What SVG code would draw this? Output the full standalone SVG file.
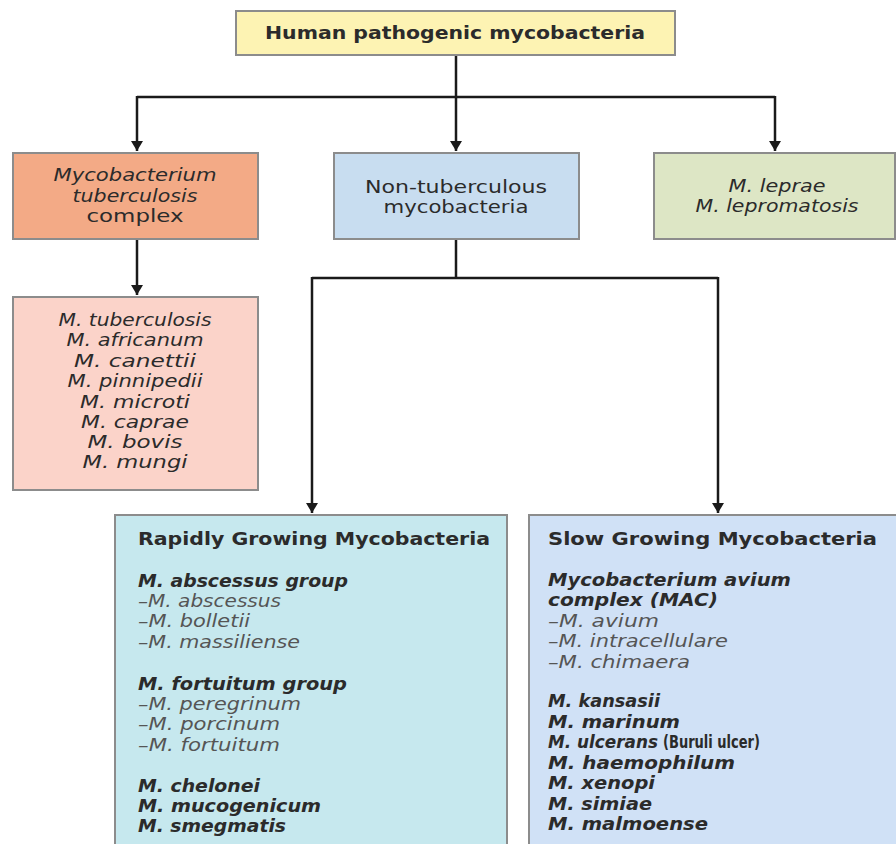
<svg xmlns="http://www.w3.org/2000/svg" width="896" height="844" viewBox="0 0 896 844">
<defs>
<marker id="ah" viewBox="0 0 10 12" refX="10" refY="6" markerWidth="10" markerHeight="12" markerUnits="userSpaceOnUse" orient="auto">
<path d="M0,0 L10,6 L0,12 Z" fill="#1a1a1a"/>
</marker>
<style>
.box{stroke:#8c8c8c;stroke-width:2}
.t{font-family:"DejaVu Sans",sans-serif;fill:#2b2b2b;font-size:17px}
.c{text-anchor:middle}
.b{font-weight:bold}
.i{font-style:oblique}
.s{fill:#555;font-weight:normal}
.ln{stroke:#1a1a1a;stroke-width:2.5;fill:none}
</style>
</defs>
<rect width="896" height="844" fill="#fff"/>
<g id="connectors">
<path class="ln" d="M456,55 V151" marker-end="url(#ah)"/>
<path class="ln" d="M137,97 H775"/>
<path class="ln" d="M137,96 V151" marker-end="url(#ah)"/>
<path class="ln" d="M775,96 V151" marker-end="url(#ah)"/>
<path class="ln" d="M137,240 V295" marker-end="url(#ah)"/>
<path class="ln" d="M456,240 V278"/>
<path class="ln" d="M312,278 H718"/>
<path class="ln" d="M312,277 V513" marker-end="url(#ah)"/>
<path class="ln" d="M718,277 V513" marker-end="url(#ah)"/>
</g>
<g id="root">
<rect class="box" x="236" y="11" width="439" height="44" fill="#fdf3b3"/>
<text class="t c b" x="455" y="39" textLength="380" lengthAdjust="spacingAndGlyphs">Human pathogenic mycobacteria</text>
</g>
<g id="mtbc">
<rect class="box" x="13" y="153" width="245" height="86" fill="#f3aa86"/>
<text class="t c i" x="135" y="181" textLength="163" lengthAdjust="spacingAndGlyphs">Mycobacterium</text>
<text class="t c i" x="135" y="202" textLength="125" lengthAdjust="spacingAndGlyphs">tuberculosis</text>
<text class="t c" x="135" y="222" textLength="97" lengthAdjust="spacingAndGlyphs">complex</text>
</g>
<g id="ntm">
<rect class="box" x="334" y="153" width="245" height="86" fill="#c8ddf0"/>
<text class="t c" x="456" y="193" textLength="182" lengthAdjust="spacingAndGlyphs">Non-tuberculous</text>
<text class="t c" x="456" y="213" textLength="145" lengthAdjust="spacingAndGlyphs">mycobacteria</text>
</g>
<g id="leprae">
<rect class="box" x="654" y="153" width="241" height="86" fill="#dde6c5"/>
<text class="t c i" x="777" y="192" textLength="97" lengthAdjust="spacingAndGlyphs">M. leprae</text>
<text class="t c i" x="777" y="212" textLength="163" lengthAdjust="spacingAndGlyphs">M. lepromatosis</text>
</g>
<g id="mtbc-species">
<rect class="box" x="13" y="297" width="245" height="193" fill="#fbd3c9"/>
<text class="t c i" x="135" y="326" textLength="153" lengthAdjust="spacingAndGlyphs">M. tuberculosis</text>
<text class="t c i" x="135" y="346" textLength="137" lengthAdjust="spacingAndGlyphs">M. africanum</text>
<text class="t c i" x="135" y="367" textLength="122" lengthAdjust="spacingAndGlyphs">M. canettii</text>
<text class="t c i" x="135" y="387" textLength="135" lengthAdjust="spacingAndGlyphs">M. pinnipedii</text>
<text class="t c i" x="135" y="408" textLength="110" lengthAdjust="spacingAndGlyphs">M. microti</text>
<text class="t c i" x="135" y="428" textLength="108" lengthAdjust="spacingAndGlyphs">M. caprae</text>
<text class="t c i" x="135" y="448" textLength="95" lengthAdjust="spacingAndGlyphs">M. bovis</text>
<text class="t c i" x="135" y="468" textLength="105" lengthAdjust="spacingAndGlyphs">M. mungi</text>
</g>
<g id="rgm">
<rect class="box" x="115" y="515" width="392" height="340" fill="#c6e8ee"/>
<text class="t b" x="138" y="545" textLength="352" lengthAdjust="spacingAndGlyphs">Rapidly Growing Mycobacteria</text>
<text class="t b i" x="138" y="587" textLength="210" lengthAdjust="spacingAndGlyphs">M. abscessus group</text>
<text class="t i s" x="138" y="607" textLength="143" lengthAdjust="spacingAndGlyphs">–M. abscessus</text>
<text class="t i s" x="138" y="627" textLength="112" lengthAdjust="spacingAndGlyphs">–M. bolletii</text>
<text class="t i s" x="138" y="648" textLength="162" lengthAdjust="spacingAndGlyphs">–M. massiliense</text>
<text class="t b i" x="138" y="690" textLength="209" lengthAdjust="spacingAndGlyphs">M. fortuitum group</text>
<text class="t i s" x="138" y="710" textLength="163" lengthAdjust="spacingAndGlyphs">–M. peregrinum</text>
<text class="t i s" x="138" y="730" textLength="142" lengthAdjust="spacingAndGlyphs">–M. porcinum</text>
<text class="t i s" x="138" y="751" textLength="142" lengthAdjust="spacingAndGlyphs">–M. fortuitum</text>
<text class="t b i" x="138" y="792" textLength="122" lengthAdjust="spacingAndGlyphs">M. chelonei</text>
<text class="t b i" x="138" y="812" textLength="183" lengthAdjust="spacingAndGlyphs">M. mucogenicum</text>
<text class="t b i" x="138" y="832" textLength="148" lengthAdjust="spacingAndGlyphs">M. smegmatis</text>
</g>
<g id="sgm">
<rect class="box" x="529" y="515" width="380" height="340" fill="#d0e1f6"/>
<text class="t b" x="548" y="545" textLength="329" lengthAdjust="spacingAndGlyphs">Slow Growing Mycobacteria</text>
<text class="t b i" x="548" y="586" textLength="243" lengthAdjust="spacingAndGlyphs">Mycobacterium avium</text>
<text class="t b i" x="548" y="606" textLength="170" lengthAdjust="spacingAndGlyphs">complex (MAC)</text>
<text class="t i s" x="548" y="627" textLength="111" lengthAdjust="spacingAndGlyphs">–M. avium</text>
<text class="t i s" x="548" y="647" textLength="180" lengthAdjust="spacingAndGlyphs">–M. intracellulare</text>
<text class="t i s" x="548" y="668" textLength="142" lengthAdjust="spacingAndGlyphs">–M. chimaera</text>
<text class="t b i" x="548" y="707" textLength="112" lengthAdjust="spacingAndGlyphs">M. kansasii</text>
<text class="t b i" x="548" y="728" textLength="132" lengthAdjust="spacingAndGlyphs">M. marinum</text>
<text class="t b i" x="548" y="748" textLength="110" lengthAdjust="spacingAndGlyphs">M. ulcerans</text>
<text class="t b" x="663" y="748" textLength="97" lengthAdjust="spacingAndGlyphs">(Buruli ulcer)</text>
<text class="t b i" x="548" y="769" textLength="187" lengthAdjust="spacingAndGlyphs">M. haemophilum</text>
<text class="t b i" x="548" y="789" textLength="107" lengthAdjust="spacingAndGlyphs">M. xenopi</text>
<text class="t b i" x="548" y="810" textLength="104" lengthAdjust="spacingAndGlyphs">M. simiae</text>
<text class="t b i" x="548" y="830" textLength="160" lengthAdjust="spacingAndGlyphs">M. malmoense</text>
</g>
</svg>
